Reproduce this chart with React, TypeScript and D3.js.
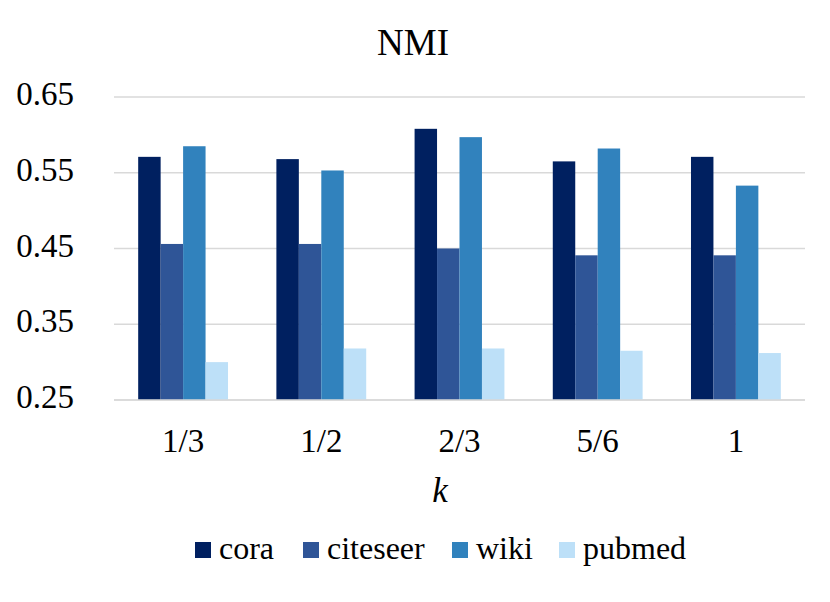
import React, { useEffect, useRef } from "react";
import * as d3 from "d3";

const categories = ["1/3", "1/2", "2/3", "5/6", "1"];
const seriesNames = ["cora", "citeseer", "wiki", "pubmed"];
const cora = [0.571, 0.568, 0.608, 0.565, 0.571];
const citeseer = [0.456, 0.456, 0.45, 0.441, 0.441];
const wiki = [0.585, 0.553, 0.597, 0.582, 0.533];
const pubmed = [0.3, 0.318, 0.318, 0.315, 0.312];
const yTicks = [0.25, 0.35, 0.45, 0.55, 0.65];
const colors = ["#002060", "#2f5597", "#3182bd", "#bde0f8"];

const W = 830;
const H = 602;
const serif = "'Liberation Serif', 'Times New Roman', Times, serif";

export default function App() {
  const ref = useRef<HTMLDivElement>(null);

  useEffect(() => {
    document.body.style.margin = "0";
    document.body.style.fontFamily = serif;

    const series = [cora, citeseer, wiki, pubmed];

    d3.select(ref.current).select("svg").remove();

    const svg = d3
      .select(ref.current)
      .append("svg")
      .attr("width", W)
      .attr("height", H)
      .style("display", "block")
      .style("background", "#fff")
      .style("font-family", serif);

    svg.append("style").text(`text { font-family: ${serif}; }`);

    const x = d3
      .scaleBand()
      .domain(categories)
      .range([114, 805])
      .paddingInner(0.35)
      .paddingOuter(0.175);

    const x1 = d3.scaleBand().domain(seriesNames).range([0, x.bandwidth()]);

    const y = d3.scaleLinear().domain([0.25, 0.65]).range([400, 97]);

    svg
      .append("text")
      .attr("x", 413)
      .attr("y", 55)
      .attr("text-anchor", "middle")
      .style("font-family", serif)
      .style("font-size", "37px")
      .text("NMI");

    // gridlines and y labels
    svg
      .selectAll("line.grid")
      .data(yTicks)
      .enter()
      .append("line")
      .attr("x1", 114)
      .attr("x2", 805)
      .attr("y1", (d) => y(d))
      .attr("y2", (d) => y(d))
      .attr("stroke", "#d9d9d9")
      .attr("stroke-width", 1.6);

    svg
      .selectAll("text.ytick")
      .data(yTicks)
      .enter()
      .append("text")
      .attr("x", 74)
      .attr("y", (d) => y(d) + 8)
      .attr("text-anchor", "end")
      .style("font-family", serif)
      .style("font-size", "33px")
      .text((d) => d.toFixed(2));

    const groups = svg
      .selectAll("g.group")
      .data(categories)
      .enter()
      .append("g")
      .attr("transform", (d) => `translate(${x(d)},0)`);

    groups
      .selectAll("rect")
      .data((_, i) => series.map((s, j) => ({ key: seriesNames[j], value: s[i], color: colors[j] })))
      .enter()
      .append("rect")
      .attr("x", (d) => x1(d.key))
      .attr("y", (d) => y(d.value))
      .attr("width", x1.bandwidth())
      .attr("height", (d) => y(0.25) - y(d.value))
      .attr("fill", (d) => d.color);

    groups
      .append("text")
      .attr("x", x.bandwidth() / 2)
      .attr("y", 452)
      .attr("text-anchor", "middle")
      .style("font-family", serif)
      .style("font-size", "33px")
      .text((d) => d);

    svg
      .append("line")
      .attr("x1", 114)
      .attr("x2", 805)
      .attr("y1", y(0.25))
      .attr("y2", y(0.25))
      .attr("stroke", "#d9d9d9")
      .attr("stroke-width", 1.6);

    svg
      .append("text")
      .attr("x", 440)
      .attr("y", 502)
      .attr("text-anchor", "middle")
      .style("font-family", serif)
      .style("font-style", "italic")
      .style("font-size", "35px")
      .text("k");

    // legend square left edges
    const legendX = [195, 303, 452, 559];
    const legend = svg
      .selectAll("g.legend")
      .data(seriesNames)
      .enter()
      .append("g")
      .attr("transform", (_, j) => `translate(${legendX[j]},542)`);

    legend
      .append("rect")
      .attr("width", 16)
      .attr("height", 16)
      .attr("fill", (_, j) => colors[j]);

    legend
      .append("text")
      .attr("x", 24)
      .attr("y", 17)
      .style("font-family", serif)
      .style("font-size", "32px")
      .text((d) => d);
  }, []);

  return <div ref={ref}></div>;
}
